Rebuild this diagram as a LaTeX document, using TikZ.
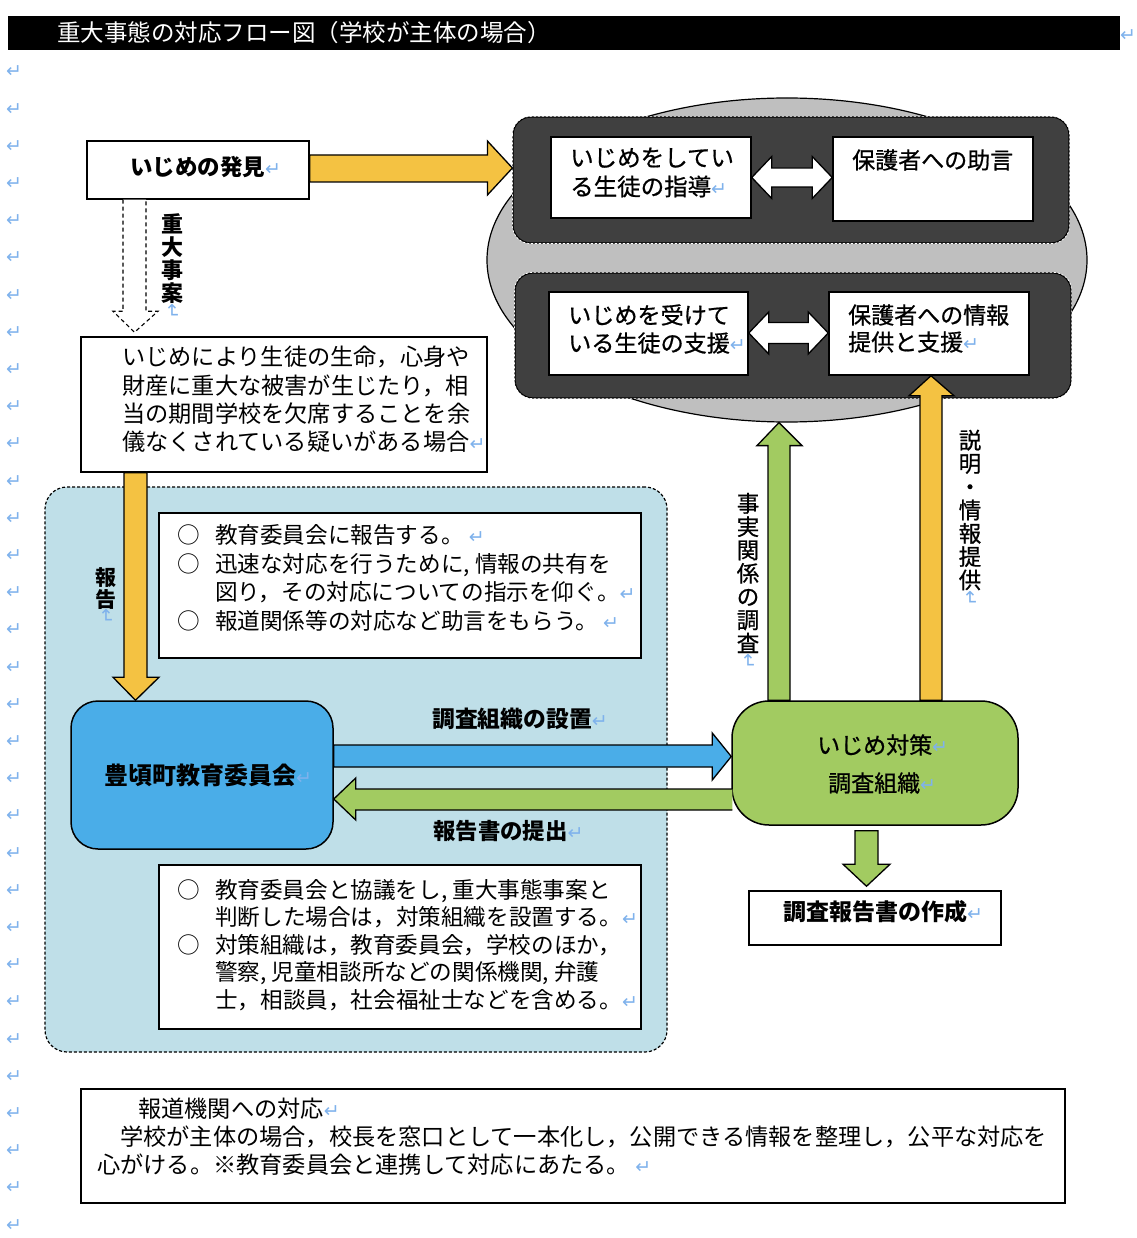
\documentclass[tikz,border=0pt]{standalone}
\usepackage{fontspec}
\usetikzlibrary{shapes.geometric,calc}
\newfontfamily\jp{Noto Sans CJK JP}
\newfontfamily\jpm[FakeBold=0.7]{Noto Sans CJK JP}
\newfontfamily\dv{DejaVu Sans}
\definecolor{cOrange}{HTML}{F4C242}
\definecolor{cGray}{HTML}{BFBFBF}
\definecolor{cDark}{HTML}{404040}
\definecolor{cRegion}{HTML}{BFDFE8}
\definecolor{cBlue}{HTML}{4AADE8}
\definecolor{cGreen}{HTML}{A2CB61}
\definecolor{pmc}{HTML}{7FB2EC}
\newcommand\pmark{{\dv\mdseries\fontsize{19}{19}\selectfont\textcolor{pmc}{↵}}}
\begin{document}
\begin{tikzpicture}[x=1pt,y=-1pt,
  box/.style={draw=black, line width=1.5pt, fill=white, inner sep=0pt},
  darkbox/.style={draw=black, line width=1.2pt, fill=cDark, rounded corners=18pt, inner sep=0pt, minimum width=556pt, minimum height=126pt},
  darkedge/.style={draw=white, line width=0.7pt, dash pattern=on 2pt off 2pt, rounded corners=18pt},
  barrow/.style={draw=black, line width=1.3pt, line join=miter},
  t/.style={inner sep=0pt, anchor=west, align=left},
  vt/.style={inner sep=0pt, align=center},
  pm/.style={inner sep=0pt, font=\dv\fontsize{19}{19}\selectfont, text=pmc}]
\useasboundingbox (0,0) rectangle (1136,1238);

% title bar
\node[fill=black, minimum width=1112pt, minimum height=34pt, inner sep=0pt] (bar) at (564,33) {};
\node[t, text=white, font=\jp\fontsize{23.5}{24}\selectfont] (title) at (57,33) {重大事態の対応フロー図（学校が主体の場合）};
\node[pm] (tmark) at (1128,36) {↵};

% left margin marks
\foreach \i in {0,...,31} {\node[pm] (m\i) at (14,72+37.2*\i) {↵};}

% shapes
\node[draw=black, dash pattern=on 3pt off 2pt, line width=1.2pt, fill=cRegion, rounded corners=22pt, minimum width=622pt, minimum height=565pt, inner sep=0pt] (region) at (356,769.5) {};
\node[ellipse, draw=black, line width=1.2pt, fill=cGray, minimum width=600pt, minimum height=324pt, inner sep=0pt] (ell) at (787,260) {};
\node[darkbox] (dark1) at (791,180) {};
\node[darkbox, minimum height=125pt] (dark2) at (793,335.5) {};
\draw[darkedge] (dark1.north west) rectangle (dark1.south east);
\draw[darkedge] (dark2.north west) rectangle (dark2.south east);

\node[box, minimum width=222pt, minimum height=58pt] (hakken) at (198,170) {};
\node[box, minimum width=200pt, minimum height=81pt] (wb1) at (651,177.5) {};
\node[box, minimum width=200pt, minimum height=84pt] (wb2) at (933,179) {};
\node[box, minimum width=199pt, minimum height=83pt] (wb3) at (648.5,333.5) {};
\node[box, minimum width=200pt, minimum height=83pt] (wb4) at (929,333.5) {};
\node[box, minimum width=406pt, minimum height=135pt] (cond) at (284,404.5) {};
\node[box, minimum width=482pt, minimum height=145pt] (info1) at (400,585.5) {};
\node[box, fill=cBlue, rounded corners=27pt, minimum width=262pt, minimum height=148pt] (board) at (202,775) {};
\node[box, fill=cGreen, rounded corners=37pt, minimum width=286pt, minimum height=124pt] (taisaku) at (875,763) {};
\node[box, minimum width=252pt, minimum height=54pt] (report) at (875,918) {};
\node[box, minimum width=482pt, minimum height=164pt] (info2) at (400,947) {};
\node[box, minimum width=984pt, minimum height=114pt] (bottom) at (573,1146) {};

% arrows
\draw[barrow, fill=cOrange] let \p1=(hakken.east), \p2=(dark1.west) in
  (\x1,-155pt) -- (\x2-25pt,-155pt) -- (\x2-25pt,-141pt) -- (\x2,-168pt) -- (\x2-25pt,-195pt) -- (\x2-25pt,-182pt) -- (\x1,-182pt) -- cycle;
\draw[barrow, fill=white] let \p1=(wb1.east), \p2=(wb2.west) in
  (\x1,-177.5pt) -- (\x1+20pt,-156.5pt) -- (\x1+20pt,-168pt) -- (\x2-20pt,-168pt) -- (\x2-20pt,-156.5pt) -- (\x2,-177.5pt) -- (\x2-20pt,-198.5pt) -- (\x2-20pt,-187pt) -- (\x1+20pt,-187pt) -- (\x1+20pt,-198.5pt) -- cycle;
\draw[barrow, fill=white] let \p1=(wb3.east), \p2=(wb4.west) in
  (\x1,-333pt) -- (\x1+20pt,-312pt) -- (\x1+20pt,-322.5pt) -- (\x2-20pt,-322.5pt) -- (\x2-20pt,-312pt) -- (\x2,-333pt) -- (\x2-20pt,-354pt) -- (\x2-20pt,-343.5pt) -- (\x1+20pt,-343.5pt) -- (\x1+20pt,-354pt) -- cycle;
\draw[barrow, fill=white, line width=1.1pt, dash pattern=on 4pt off 3pt] let \p1=(hakken.south), \p2=(cond.north) in
  (123pt,\y1) -- (123pt,\y2+25pt) -- (113pt,\y2+25pt) -- (134.5pt,\y2+4pt) -- (158pt,\y2+25pt) -- (146pt,\y2+25pt) -- (146pt,\y1);
\draw[barrow, fill=cOrange] let \p1=(cond.south), \p2=(board.north) in
  (124pt,\y1) -- (124pt,\y2+23pt) -- (113pt,\y2+23pt) -- (135.5pt,\y2) -- (159pt,\y2+23pt) -- (147pt,\y2+23pt) -- (147pt,\y1) -- cycle;
\draw[barrow, fill=cBlue] let \p1=(board.east), \p2=(taisaku.west) in
  (\x1,-745pt) -- (\x2-19pt,-745pt) -- (\x2-19pt,-733pt) -- (\x2,-756.5pt) -- (\x2-19pt,-780pt) -- (\x2-19pt,-767pt) -- (\x1,-767pt) -- cycle;
\draw[barrow, fill=cGreen] let \p1=(taisaku.west), \p2=(board.east) in
  (\x1+1pt,-789pt) -- (\x2+22pt,-789pt) -- (\x2+22pt,-778pt) -- (\x2,-799pt) -- (\x2+22pt,-820pt) -- (\x2+22pt,-810pt) -- (\x1+1pt,-810pt);
\draw[barrow, fill=cGreen] let \p1=(taisaku.north), \p2=(ell.south) in
  (768pt,\y1) -- (768pt,\y2-23pt) -- (757pt,\y2-23pt) -- (779pt,\y2) -- (802pt,\y2-23pt) -- (790pt,\y2-23pt) -- (790pt,\y1) -- cycle;
\draw[barrow, fill=cOrange] let \p1=(taisaku.north), \p2=(wb4.south) in
  (920pt,\y1) -- (920pt,\y2-20pt) -- (909pt,\y2-20pt) -- (931pt,\y2) -- (954pt,\y2-20pt) -- (942pt,\y2-20pt) -- (942pt,\y1) -- cycle;
\draw[barrow, fill=cGreen] let \p1=(taisaku.south), \p2=(report.north) in
  (855pt,\y1-5pt) -- (855pt,\y2+26pt) -- (843pt,\y2+26pt) -- (866.5pt,\y2+4pt) -- (890pt,\y2+26pt) -- (878pt,\y2+26pt) -- (878pt,\y1-5pt) -- cycle;

% texts
\node[t, font=\jp\bfseries\fontsize{22.5}{23}\selectfont] (thakken) at (130,167) {いじめの発見\pmark};
\node[t, font=\jpm\fontsize{23.5}{29}\selectfont] (twb1) at (570,172.5) {いじめをしてい\\る生徒の指導\pmark};
\node[t, font=\jpm\fontsize{23}{29}\selectfont] (twb2) at (852,160) {保護者への助言};
\node[t, font=\jpm\fontsize{23.1}{28}\selectfont] (twb3) at (568,329) {いじめを受けて\\いる生徒の支援\pmark};
\node[t, font=\jpm\fontsize{23}{27}\selectfont] (twb4) at (848,328.5) {保護者への情報\\提供と支援\pmark};

\node[vt, font=\jp\bfseries\fontsize{22}{23}\selectfont] (tjudai) at (172,259) {重\\大\\事\\案};
\node[pm, rotate=-90] (mjudai) at (172,311) {↵};

\node[t, font=\jp\fontsize{23.2}{28.3}\selectfont] (tcond) at (122,399.5) {いじめにより生徒の生命，心身や\\財産に重大な被害が生じたり，相\\当の期間学校を欠席することを余\\儀なくされている疑いがある場合\pmark};

\node[vt, font=\jp\bfseries\fontsize{21}{22}\selectfont] (thokoku) at (106,589) {報\\告};
\node[pm, rotate=-90] (mhokoku) at (106,616) {↵};

\node[t, font=\jp\fontsize{22.6}{28.7}\selectfont] (tinfo1) at (177,578) {\makebox[38pt][l]{○}教育委員会に報告する。 \pmark\\
\makebox[38pt][l]{○}迅速な対応を行うために, 情報の共有を\\
\hspace*{38pt}図り，その対応についての指示を仰ぐ。\pmark\\
\makebox[38pt][l]{○}報道関係等の対応など助言をもらう。 \pmark};

\node[t, font=\jp\bfseries\fontsize{24}{24}\selectfont] (tboard) at (104,775) {豊頃町教育委員会\pmark};
\node[t, font=\jp\bfseries\fontsize{22.8}{23}\selectfont] (tsetchi) at (432,719) {調査組織の設置\pmark};
\node[t, font=\jp\bfseries\fontsize{22.4}{23}\selectfont] (tteishutsu) at (433,831) {報告書の提出\pmark};

\node[t, font=\jpm\fontsize{23}{23}\selectfont] (ttaisaku1) at (817,745) {いじめ対策\pmark};
\node[t, font=\jpm\fontsize{23}{23}\selectfont] (ttaisaku2) at (828,783) {調査組織\pmark};

\node[vt, font=\jpm\fontsize{22.5}{23.3}\selectfont] (tjijitsu) at (748,573) {事\\実\\関\\係\\の\\調\\査};
\node[pm, rotate=-90] (mjijitsu) at (748,661) {↵};
\node[vt, font=\jpm\fontsize{22.5}{23.3}\selectfont] (tsetsumei) at (970,510) {説\\明\\・\\情\\報\\提\\供};
\node[pm, rotate=-90] (msetsumei) at (970,598) {↵};

\node[t, font=\jp\bfseries\fontsize{23}{23}\selectfont] (treport) at (783,912) {調査報告書の作成\pmark};

\node[t, font=\jp\fontsize{22.6}{27.5}\selectfont] (tinfo2) at (177,945) {\makebox[38pt][l]{○}教育委員会と協議をし, 重大事態事案と\\
\hspace*{38pt}判断した場合は，対策組織を設置する。\pmark\\
\makebox[38pt][l]{○}対策組織は，教育委員会，学校のほか，\\
\hspace*{38pt}警察, 児童相談所などの関係機関, 弁護\\
\hspace*{38pt}士，相談員，社会福祉士などを含める。\pmark};

\node[t, font=\jp\fontsize{23.2}{28}\selectfont] (tbottom) at (97,1137) {\hspace*{41pt}報道機関への対応\pmark\\
\hspace*{23pt}学校が主体の場合，校長を窓口として一本化し，公開できる情報を整理し，公平な対応を\\
心がける。※教育委員会と連携して対応にあたる。 \pmark};
\end{tikzpicture}
\end{document}
